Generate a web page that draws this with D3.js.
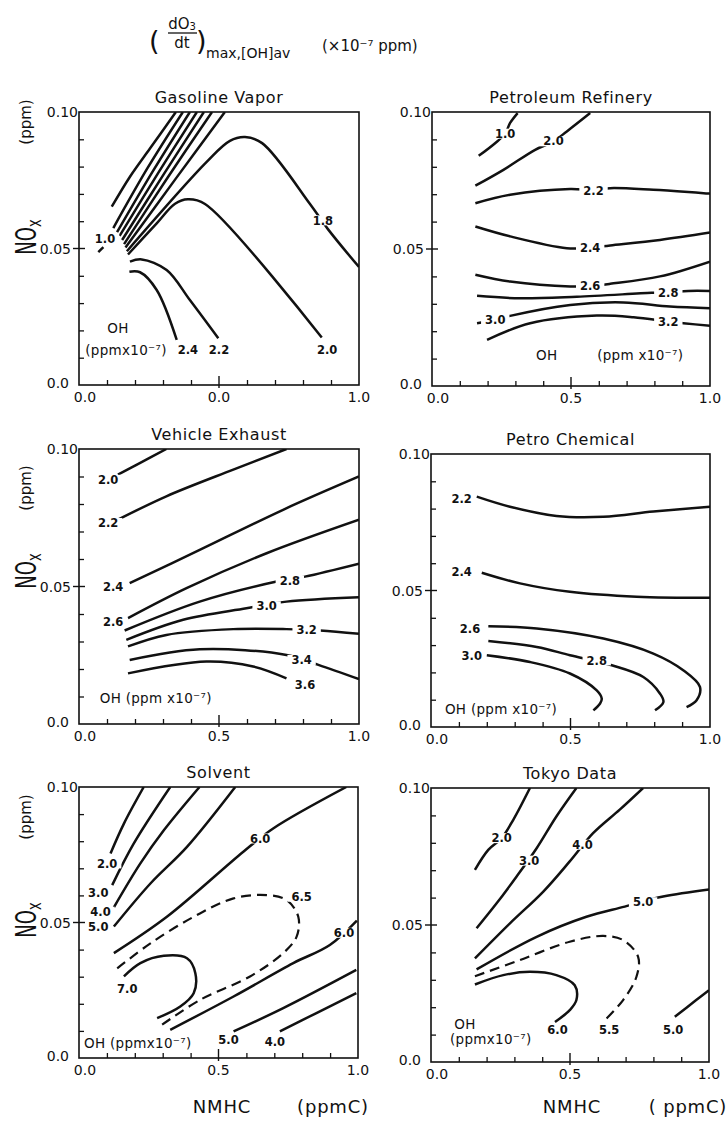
<!DOCTYPE html>
<html>
<head>
<meta charset="utf-8">
<script src="https://cdn.jsdelivr.net/npm/d3@7"></script>
<style>
body { margin: 0; background: #fff; }
text { font-family: "DejaVu Sans", sans-serif; fill: #111; }
</style>
</head>
<body>
<div id="chart"></div>
<script>
// axis values
var xTicks = [0, 0.5, 1.0];
var yTicks = [0, 0.05, 0.10];
var xTickLabels = ["0.0", "0.5", "1.0"];
var xTickLabelsGasoline = ["0.0", "0.0", "1.0"];   // as printed in the original
var yTickLabels = ["0.0", "0.05", "0.10"];
var xMinorTicks = [0.1, 0.2, 0.3, 0.4, 0.6, 0.7, 0.8, 0.9];
var yMinorTicks = [0.01, 0.02, 0.03, 0.04, 0.06, 0.07, 0.08, 0.09];

var panelTitles = ["Gasoline Vapor", "Petroleum Refinery", "Vehicle Exhaust",
                   "Petro Chemical", "Solvent", "Tokyo Data"];

// ---- Gasoline Vapor ----
var gasolineLines = [
  [[0.069, 0.0487], [0.087, 0.0505]],
  [[0.117, 0.0653], [0.182, 0.0763], [0.254, 0.0867], [0.346, 0.1]],
  [[0.1225, 0.0575], [0.245, 0.0795], [0.371, 0.1]],
  [[0.136, 0.056], [0.265, 0.0785], [0.396, 0.1]],
  [[0.145, 0.0546], [0.283, 0.0777], [0.421, 0.1]],
  [[0.154, 0.0531], [0.30, 0.0768], [0.446, 0.1]],
  [[0.161, 0.0516], [0.318, 0.0762], [0.475, 0.1]],
  [[0.166, 0.0504], [0.345, 0.0755], [0.521, 0.1]],
  [[0.171, 0.049], [0.456, 0.0817], [0.539, 0.0894], [0.593, 0.0908], [0.654, 0.0886],
   [0.825, 0.0663], [0.889, 0.0571], [1.0, 0.0432]],
  [[0.175, 0.0478], [0.2775, 0.0592], [0.343, 0.0664], [0.389, 0.068], [0.45, 0.0663], [0.867, 0.0174]],
  [[0.182, 0.0452], [0.224, 0.046], [0.313, 0.0421], [0.396, 0.0311], [0.4975, 0.0171]],
  [[0.18, 0.0415], [0.218, 0.0413], [0.2775, 0.0348], [0.349, 0.0165]]
];
var gasolineDashed = [];
var gasolineLabels = [["1.0", 0.093, 0.0535], ["1.8", 0.871, 0.0603], ["2.0", 0.886, 0.0128],
                      ["2.2", 0.5, 0.0128], ["2.4", 0.389, 0.0128]];
var gasolineNotes = [["OH", 0.139, 0.0209, "middle"], ["(ppmx10\u207B\u2077)", 0.168, 0.0128, "middle"]];

// ---- Petroleum Refinery ----
var refineryLines = [
  [[0.168, 0.084], [0.228, 0.0887], [0.263, 0.0921], [0.281, 0.096], [0.308, 0.0996]],
  [[0.156, 0.0731], [0.257, 0.0789], [0.371, 0.0862], [0.437, 0.0893], [0.485, 0.0929], [0.569, 0.0996]],
  [[0.156, 0.0667], [0.281, 0.0698], [0.497, 0.0719], [0.581, 0.0715], [0.641, 0.0722], [0.796, 0.0716], [1.0, 0.0702]],
  [[0.156, 0.0582], [0.281, 0.0546], [0.485, 0.0503], [0.569, 0.0505], [0.641, 0.0513], [0.82, 0.0533], [1.0, 0.056]],
  [[0.156, 0.0406], [0.281, 0.0381], [0.497, 0.0363], [0.569, 0.0365], [0.641, 0.0373], [0.82, 0.04], [1.0, 0.0454]],
  [[0.162, 0.0329], [0.317, 0.032], [0.521, 0.0326], [0.79, 0.0340], [0.85, 0.0342], [0.922, 0.0347], [1.0, 0.0347]],
  [[0.162, 0.0229], [0.2275, 0.0241], [0.281, 0.0256], [0.497, 0.0296], [0.689, 0.0305], [0.856, 0.029], [1.0, 0.0284]],
  [[0.198, 0.0168], [0.353, 0.0229], [0.593, 0.0257], [0.725, 0.0251], [0.85, 0.0235], [0.904, 0.0229], [1.0, 0.022]]
];
var refineryDashed = [];
var refineryLabels = [["1.0", 0.263, 0.0921], ["2.0", 0.437, 0.0893], ["2.2", 0.581, 0.0713],
                      ["2.4", 0.569, 0.0504], ["2.6", 0.569, 0.0364], ["2.8", 0.85, 0.0340],
                      ["3.0", 0.2275, 0.0241], ["3.2", 0.85, 0.0235]];
var refineryNotes = [["OH", 0.413, 0.0113, "middle"], ["(ppm x10\u207B\u2077)", 0.749, 0.0113, "middle"]];

// ---- Vehicle Exhaust ----
var vehicleLines = [
  [[0.139, 0.0907], [0.217, 0.0949], [0.312, 0.1]],
  [[0.139, 0.0743], [0.312, 0.0828], [0.551, 0.0925], [0.741, 0.1]],
  [[0.181, 0.0512], [0.431, 0.0633], [0.729, 0.0779], [1.0, 0.09]],
  [[0.175, 0.0385], [0.384, 0.0494], [0.67, 0.0621], [1.0, 0.0743]],
  [[0.163, 0.034], [0.431, 0.0445], [0.706, 0.0518], [0.807, 0.0536], [1.0, 0.0583]],
  [[0.169, 0.0306], [0.372, 0.0379], [0.598, 0.0421], [0.741, 0.0445], [1.0, 0.0461]],
  [[0.175, 0.0282], [0.312, 0.0324], [0.551, 0.0345], [0.741, 0.0345], [0.861, 0.034], [1.0, 0.0328]],
  [[0.181, 0.0233], [0.431, 0.0272], [0.741, 0.0251], [0.855, 0.0215], [1.0, 0.0163]],
  [[0.175, 0.0184], [0.455, 0.0227], [0.622, 0.0209], [0.741, 0.0166]]
];
var vehicleDashed = [];
var vehicleLabels = [["2.0", 0.104, 0.0888], ["2.2", 0.104, 0.0731], ["2.4", 0.122, 0.0498],
                     ["2.6", 0.122, 0.0373], ["2.8", 0.753, 0.0522], ["3.0", 0.67, 0.0428],
                     ["3.2", 0.813, 0.0344], ["3.4", 0.795, 0.0233], ["3.6", 0.807, 0.0142]];
var vehicleNotes = [["OH  (ppm x10\u207B\u2077)", 0.074, 0.0093, "start"]];

// ---- Petro Chemical ----
var petroLines = [
  [[0.164, 0.0844], [0.283, 0.0807], [0.45, 0.0773], [0.618, 0.077], [0.797, 0.0789], [1.0, 0.0807]],
  [[0.182, 0.0565], [0.319, 0.0526], [0.498, 0.0495], [0.737, 0.0477], [1.0, 0.0473]],
  [[0.2055, 0.0369], [0.379, 0.0361], [0.618, 0.0324], [0.797, 0.0269], [0.904, 0.0208],
   [0.964, 0.0147], [0.952, 0.0098], [0.916, 0.0073]],
  [[0.2055, 0.0315], [0.379, 0.0293], [0.498, 0.0263], [0.648, 0.0226], [0.761, 0.0183],
   [0.821, 0.0122], [0.833, 0.0092], [0.803, 0.0061]],
  [[0.2, 0.0263], [0.355, 0.0238], [0.498, 0.0196], [0.594, 0.0134], [0.612, 0.0104],
   [0.606, 0.0086], [0.582, 0.0061]]
];
var petroDashed = [];
var petroLabels = [["2.2", 0.11, 0.0834], ["2.4", 0.11, 0.0568], ["2.6", 0.14, 0.0361],
                   ["2.8", 0.594, 0.0244], ["3.0", 0.146, 0.0259]];
var petroNotes = [["OH (ppm x10\u207B\u2077)", 0.05, 0.0067, "start"]];

// ---- Solvent ----
var solventLines = [
  [[0.113, 0.0755], [0.161, 0.0865], [0.232, 0.1]],
  [[0.119, 0.0638], [0.196, 0.0791], [0.327, 0.1]],
  [[0.125, 0.0556], [0.22, 0.0718], [0.304, 0.084], [0.432, 0.1]],
  [[0.125, 0.0485], [0.256, 0.0644], [0.387, 0.0779], [0.56, 0.1]],
  [[0.125, 0.0387], [0.315, 0.0521], [0.589, 0.0761], [0.696, 0.0847], [0.958, 0.1]],
  [[0.161, 0.0301], [0.22, 0.035], [0.304, 0.0377], [0.387, 0.0368], [0.417, 0.0313],
   [0.411, 0.0239], [0.363, 0.019], [0.28, 0.0147]],
  [[0.327, 0.0104], [0.554, 0.0227], [0.768, 0.035], [0.899, 0.0417], [0.996, 0.0507]],
  [[0.554, 0.0098], [0.732, 0.0184], [0.994, 0.0325]],
  [[0.72, 0.0098], [0.851, 0.0166], [0.994, 0.0239]]
];
var solventDashed = [
  [[0.137, 0.0331], [0.256, 0.0423], [0.411, 0.0521], [0.554, 0.0589], [0.673, 0.0601],
   [0.744, 0.0583], [0.786, 0.0521], [0.78, 0.0448], [0.732, 0.0387], [0.613, 0.0301],
   [0.435, 0.0215], [0.298, 0.0123]]
];
var solventLabels = [["2.0", 0.101, 0.0718], ["3.0", 0.069, 0.061], ["4.0", 0.077, 0.054],
                     ["5.0", 0.069, 0.0485], ["6.0", 0.649, 0.081], ["6.5", 0.798, 0.0595],
                     ["7.0", 0.173, 0.0254], ["6.0", 0.95, 0.0462], ["5.0", 0.536, 0.0067],
                     ["4.0", 0.702, 0.0061]];
var solventNotes = [["OH (ppmx10\u207B\u2077)", 0.018, 0.0055, "start"]];

// ---- Tokyo Data ----
var tokyoLines = [
  [[0.158, 0.0701], [0.206, 0.0774], [0.254, 0.0817], [0.296, 0.0884], [0.356, 0.1]],
  [[0.164, 0.0488], [0.236, 0.0579], [0.308, 0.0677], [0.38, 0.078], [0.451, 0.0896], [0.523, 0.1]],
  [[0.158, 0.0378], [0.284, 0.0506], [0.404, 0.0622], [0.499, 0.0732], [0.583, 0.0835],
   [0.679, 0.0921], [0.763, 0.1]],
  [[0.164, 0.0338], [0.38, 0.0457], [0.559, 0.053], [0.697, 0.0567], [0.835, 0.0604], [1.0, 0.063]],
  [[0.158, 0.0283], [0.26, 0.0317], [0.356, 0.0329], [0.451, 0.0317], [0.517, 0.028],
   [0.523, 0.0226], [0.499, 0.0189], [0.446, 0.0146]],
  [[0.877, 0.0165], [0.954, 0.0226], [1.0, 0.0262]]
];
var tokyoDashed = [
  [[0.158, 0.0313], [0.32, 0.0372], [0.499, 0.0439], [0.619, 0.046], [0.691, 0.0445],
   [0.745, 0.0384], [0.739, 0.0311], [0.691, 0.0226], [0.619, 0.0146]]
];
var tokyoLabels = [["2.0", 0.254, 0.0817], ["3.0", 0.353, 0.0735], ["4.0", 0.545, 0.0793],
                   ["5.0", 0.763, 0.0583], ["5.5", 0.641, 0.0116], ["6.0", 0.455, 0.0116],
                   ["5.0", 0.871, 0.0118]];
var tokyoNotes = [["OH", 0.122, 0.014, "middle"], ["(ppmx10\u207B\u2077)", 0.215, 0.0085, "middle"]];

// panel layout
var panels = [
  { left: 79,  top: 112, w: 280, h: 273, lines: gasolineLines, dashed: gasolineDashed, labels: gasolineLabels, notes: gasolineNotes, xLabels: xTickLabelsGasoline, ppmY: 122, noxY: 237 },
  { left: 432, top: 112, w: 278, h: 274, lines: refineryLines, dashed: refineryDashed, labels: refineryLabels, notes: refineryNotes, xLabels: xTickLabels },
  { left: 79,  top: 449, w: 280, h: 275, lines: vehicleLines, dashed: vehicleDashed, labels: vehicleLabels, notes: vehicleNotes, xLabels: xTickLabels, ppmY: 488, noxY: 571 },
  { left: 431, top: 454, w: 279, h: 273, lines: petroLines, dashed: petroDashed, labels: petroLabels, notes: petroNotes, xLabels: xTickLabels },
  { left: 79,  top: 787, w: 279, h: 271, lines: solventLines, dashed: solventDashed, labels: solventLabels, notes: solventNotes, xLabels: xTickLabels, ppmY: 817, noxY: 920 },
  { left: 431, top: 788, w: 278, h: 274, lines: tokyoLines, dashed: tokyoDashed, labels: tokyoLabels, notes: tokyoNotes, xLabels: xTickLabels }
];

var svg = d3.select("#chart").append("svg")
  .attr("width", 728)
  .attr("height", 1121);

svg.append("rect").attr("width", 728).attr("height", 1121).attr("fill", "#fff");

// main heading
var head = svg.append("g");
head.append("text").attr("x", 149).attr("y", 50).attr("font-size", 27).text("(");
head.append("text").attr("x", 182).attr("y", 29).attr("font-size", 15).attr("text-anchor", "middle")
  .text("dO").append("tspan").attr("font-size", 10).attr("dy", 1).text("3");
head.append("line").attr("x1", 168).attr("x2", 197).attr("y1", 33).attr("y2", 33)
  .attr("stroke", "#111").attr("stroke-width", 1.3);
head.append("text").attr("x", 182).attr("y", 48).attr("font-size", 15).attr("text-anchor", "middle").text("dt");
head.append("text").attr("x", 196).attr("y", 50).attr("font-size", 27).text(")");
head.append("text").attr("x", 206).attr("y", 58).attr("font-size", 14).text("max,[OH]av");
head.append("text").attr("x", 322).attr("y", 51).attr("font-size", 15).text("(\u00D710\u207B\u2077 ppm)");

var ink = "#111";

panels.forEach(function(p, i) {
  var x = d3.scaleLinear().domain([0, 1]).range([p.left, p.left + p.w]);
  var y = d3.scaleLinear().domain([0, 0.1]).range([p.top + p.h, p.top]);
  var g = svg.append("g");

  svg.append("clipPath").attr("id", "clip" + i).append("rect")
    .attr("x", p.left).attr("y", p.top).attr("width", p.w).attr("height", p.h);

  var line = d3.line()
    .x(d => x(d[0]))
    .y(d => y(d[1]))
    .curve(d3.curveCatmullRom.alpha(0.5));

  var curves = g.append("g").attr("clip-path", "url(#clip" + i + ")");
  curves.selectAll("path.solid")
    .data(p.lines)
    .enter()
    .append("path")
    .attr("class", "solid")
    .attr("d", line)
    .attr("fill", "none")
    .attr("stroke", ink)
    .attr("stroke-width", 2.5);
  curves.selectAll("path.dash")
    .data(p.dashed)
    .enter()
    .append("path")
    .attr("class", "dash")
    .attr("d", line)
    .attr("fill", "none")
    .attr("stroke", ink)
    .attr("stroke-width", 2.2)
    .attr("stroke-dasharray", "10,6");

  // contour labels with a white patch cutting the line
  var labs = g.selectAll("g.lab")
    .data(p.labels)
    .enter()
    .append("g")
    .attr("class", "lab");
  labs.append("text")
    .attr("x", d => x(d[1]))
    .attr("y", d => y(d[2]))
    .attr("dy", "0.36em")
    .attr("text-anchor", "middle")
    .attr("font-size", 11.5)
    .attr("font-weight", "bold")
    .text(d => d[0]);
  labs.each(function(d) {
    var t = d3.select(this).select("text").node().getBBox();
    d3.select(this).insert("rect", "text")
      .attr("x", t.x - 4)
      .attr("y", y(d[2]) - 5)
      .attr("width", t.width + 8)
      .attr("height", 10)
      .attr("fill", "#fff");
  });

  // OH notes
  g.selectAll("text.note")
    .data(p.notes)
    .enter()
    .append("text")
    .attr("class", "note")
    .attr("x", d => x(d[1]))
    .attr("y", d => y(d[2]))
    .attr("dy", "0.36em")
    .attr("text-anchor", d => d[3])
    .attr("font-size", 13.5)
    .attr("letter-spacing", 0.3)
    .text(d => d[0]);

  // frame
  g.append("rect")
    .attr("x", p.left).attr("y", p.top)
    .attr("width", p.w).attr("height", p.h)
    .attr("fill", "none")
    .attr("stroke", ink)
    .attr("stroke-width", 1.6);

  // minor ticks pointing inwards
  g.append("g")
    .attr("transform", `translate(${p.left},0)`)
    .call(d3.axisLeft(y).tickValues(yMinorTicks).tickSize(-5).tickFormat(""))
    .call(a => a.select(".domain").remove())
    .selectAll("line").attr("stroke", ink).attr("stroke-width", 1.3);
  g.append("g")
    .attr("transform", `translate(0,${p.top + p.h})`)
    .call(d3.axisBottom(x).tickValues(xMinorTicks).tickSize(-5).tickFormat(""))
    .call(a => a.select(".domain").remove())
    .selectAll("line").attr("stroke", ink).attr("stroke-width", 1.3);

  // major ticks crossing the axis
  g.append("line")
    .attr("x1", p.left - 6).attr("x2", p.left + 6)
    .attr("y1", y(0.05)).attr("y2", y(0.05))
    .attr("stroke", ink).attr("stroke-width", 1.4);
  g.append("line")
    .attr("x1", x(0.5)).attr("x2", x(0.5))
    .attr("y1", p.top + p.h + 3).attr("y2", p.top + p.h - 9)
    .attr("stroke", ink).attr("stroke-width", 1.4);

  // tick labels
  g.selectAll("text.ytl")
    .data(yTicks)
    .enter()
    .append("text")
    .attr("class", "ytl")
    .attr("x", d => p.left - (d === 0.05 ? 8 : d === 0 ? 10 : 1))
    .attr("y", d => y(d) - (d === 0 ? 2 : 0))
    .attr("dy", "0.36em")
    .attr("text-anchor", "end")
    .attr("font-size", 14)
    .text((d, k) => yTickLabels[k]);
  g.selectAll("text.xtl")
    .data(xTicks)
    .enter()
    .append("text")
    .attr("class", "xtl")
    .attr("x", d => x(d) + (d === 0 ? 6 : 0))
    .attr("y", p.top + p.h + 17)
    .attr("text-anchor", "middle")
    .attr("font-size", 14)
    .text((d, k) => p.xLabels[k]);

  // panel title
  g.append("text")
    .attr("x", p.left + p.w / 2)
    .attr("y", p.top - 9)
    .attr("text-anchor", "middle")
    .attr("font-size", 16)
    .attr("letter-spacing", 0.6)
    .text(panelTitles[i]);

  // y axis title on the left column
  if (p.noxY) {
    g.append("text")
      .attr("transform", `translate(36,${p.noxY}) rotate(-90) scale(1,1.55)`)
      .attr("text-anchor", "middle")
      .attr("font-size", 18)
      .text("NO")
      .append("tspan").attr("font-size", 13).attr("dy", 3).text("x");
    g.append("text")
      .attr("transform", `translate(31,${p.ppmY}) rotate(-90)`)
      .attr("text-anchor", "middle")
      .attr("font-size", 15)
      .text("(ppm)");
  }
});

// x axis titles
var xTitleY = 1113;
[[222, "NMHC"], [333, "(ppmC)"], [572, "NMHC"], [688, "( ppmC)"]].forEach(function(t) {
  svg.append("text")
    .attr("x", t[0]).attr("y", xTitleY)
    .attr("text-anchor", "middle")
    .attr("font-size", 18)
    .attr("letter-spacing", 0.8)
    .text(t[1]);
});
</script>
</body>
</html>
